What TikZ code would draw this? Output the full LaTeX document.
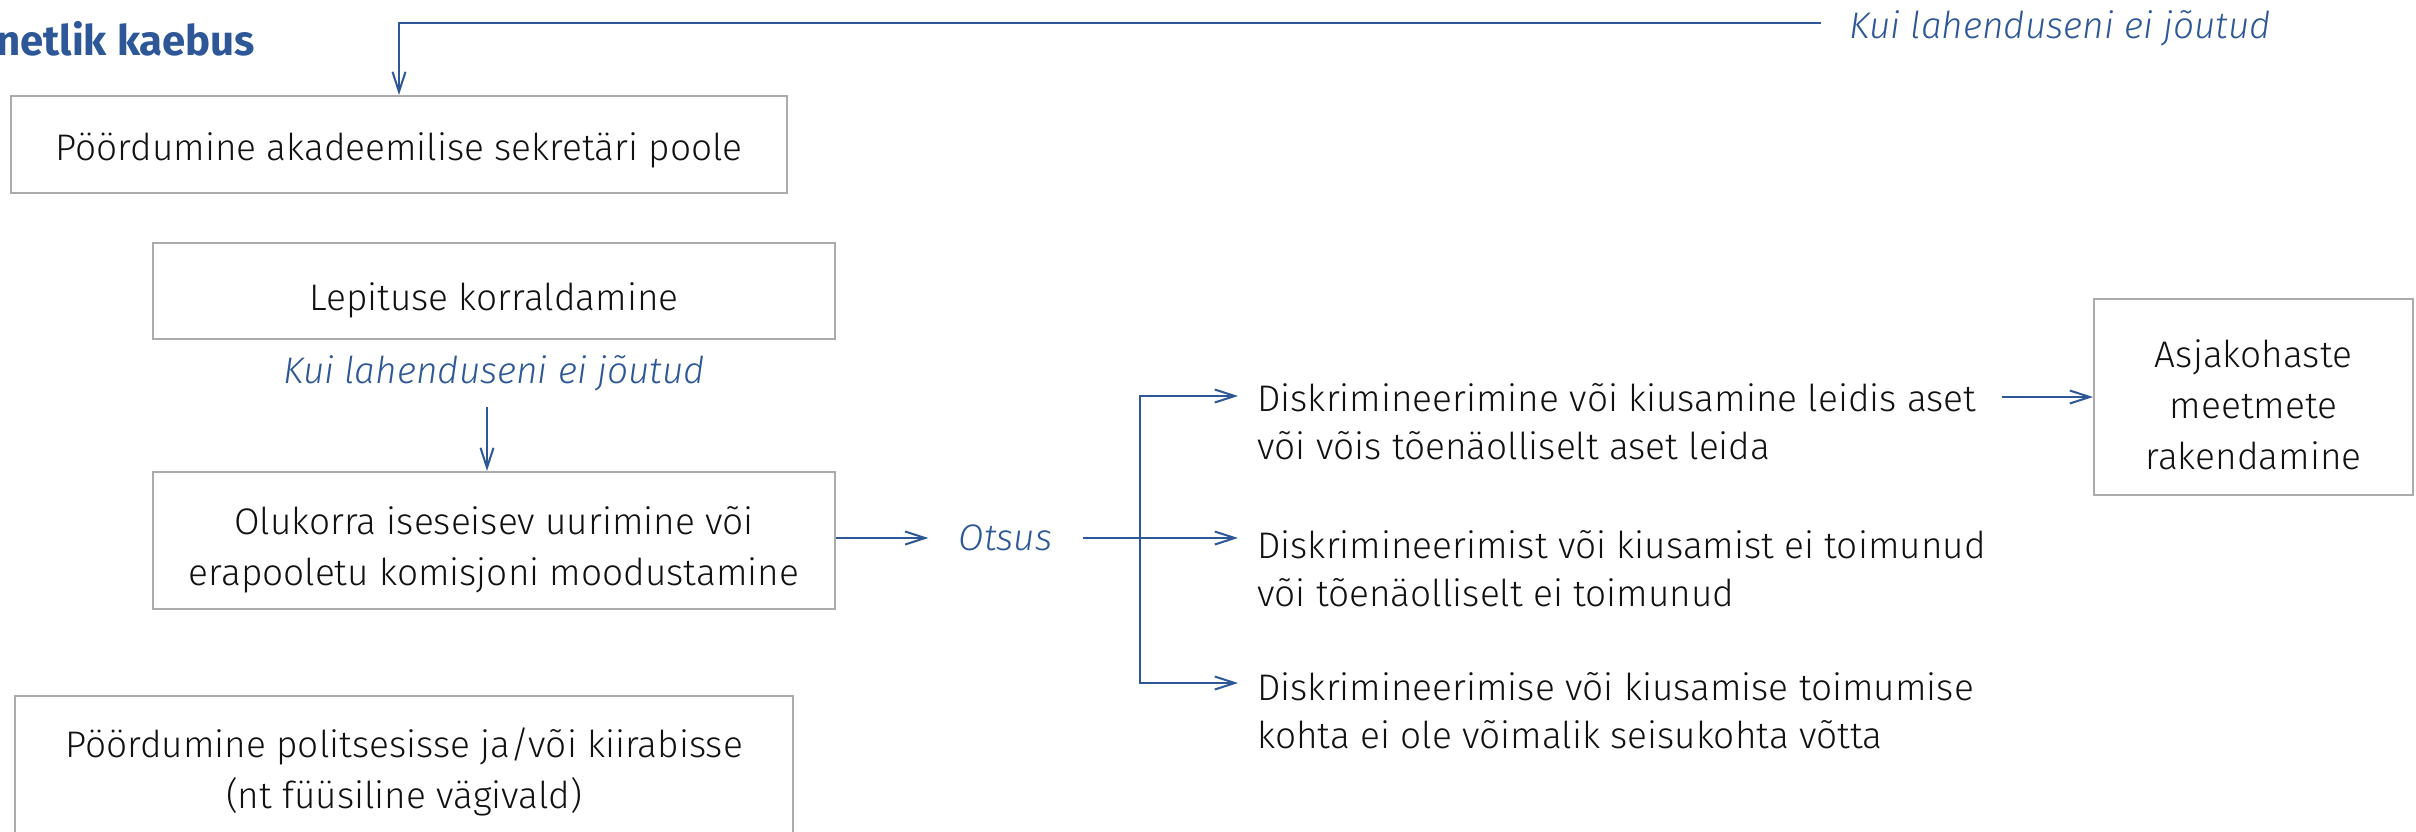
\documentclass[tikz,border=0pt]{standalone}
\usepackage{fontspec}
\IfFontExistsTF{Fira Sans Light}{%
  \IfFontExistsTF{Fira Sans Light Italic}{%
    \setmainfont{Fira Sans Light}[ItalicFont={Fira Sans Light Italic}, BoldFont={Fira Sans Bold}]}{%
    \setmainfont{Fira Sans Light}[BoldFont={Fira Sans Bold}]}%
}{\setmainfont{Fira Sans}}
\usetikzlibrary{arrows.meta}
\definecolor{ublue}{HTML}{2D5796}
\definecolor{boxgray}{HTML}{ABABAB}
\definecolor{txt}{HTML}{111111}
\newcommand\dnstrut[1]{\rule{0pt}{#1}}
\begin{document}
\begin{tikzpicture}[x=0.5pt,y=-0.5pt,
 box/.style={draw=boxgray, line width=1pt, align=center, text=txt, font=\fontsize{18.5}{25.5}\selectfont, inner sep=0pt},
 tipb/.tip={Straight Barb[length=10pt,width=6.5pt,line width=1pt]},
 bline/.style={draw=ublue, line width=1pt},
 conn/.style={bline, -tipb},
 lbl/.style={text=ublue, font=\fontsize{18.5}{24}\selectfont\itshape, inner sep=0pt},
 outc/.style={text=txt, align=left, font=\fontsize{18.5}{24}\selectfont, anchor=north west, inner xsep=9.5pt, inner ysep=0pt}]
\useasboundingbox (0,0) rectangle (2416,831);

\node[text=ublue, font=\fontsize{21}{24}\selectfont\bfseries, anchor=west, inner sep=0pt] (title) at (-4,39) {netlik kaebus};
\node[lbl, anchor=west] (lbl1) at (1849,28) {Kui lahenduseni ei jõutud};

\node[box, minimum width=388pt, minimum height=48.5pt] (b1) at (399,144.5) {\dnstrut{20pt}Pöördumine akadeemilise sekretäri poole};
\node[box, minimum width=341pt, minimum height=48pt] (b2) at (494,291) {\dnstrut{23pt}Lepituse korraldamine};
\node[lbl] (lbl2) at (494,373) {Kui lahenduseni ei jõutud};
\node[box, minimum width=341pt, minimum height=68.5pt] (b3) at (494,540.5) {\dnstrut{23pt}Olukorra iseseisev uurimine või\\erapooletu komisjoni moodustamine};
\node[lbl, inner xsep=15pt] (otsus) at (1005.5,538) {Otsus};

\node[outc] (t1) at (1238,383) {Diskrimineerimine või kiusamine leidis aset\\või võis tõenäolliselt aset leida};
\node[outc] (t2) at (1238,530) {Diskrimineerimist või kiusamist ei toimunud\\või tõenäolliselt ei toimunud};
\node[outc] (t3) at (1238,672) {Diskrimineerimise või kiusamise toimumise\\kohta ei ole võimalik seisukohta võtta};

\node[box, minimum width=159.5pt, minimum height=98pt] (b4) at (2253.5,397) {\dnstrut{22pt}Asjakohaste\\meetmete\\rakendamine};
\node[box, minimum width=389pt, minimum height=76pt] (b5) at (404,772) {Pöördumine politsesisse ja/või kiirabisse\\(nt füüsiline vägivald)};

\coordinate (c1) at (1821,23);
\draw[conn] (c1) -| (b1.north);

\coordinate (a1) at (487,407);
\draw[conn] (a1) -- (a1 |- b3.north);

\draw[conn] (b3.east |- otsus.west) -- (otsus.west);
\draw[conn] (otsus.east) -- (otsus.east -| t2.west);

\coordinate (j1) at (1140,396);
\coordinate (j3) at (1140,683);
\draw[bline, tipb-tipb] (j1 -| t1.west) -- (j1) -- (j3) -- (j3 -| t3.west);

\coordinate (k1) at (2002,397);
\draw[conn] (k1) -- (k1 -| b4.west);
\end{tikzpicture}
\end{document}
